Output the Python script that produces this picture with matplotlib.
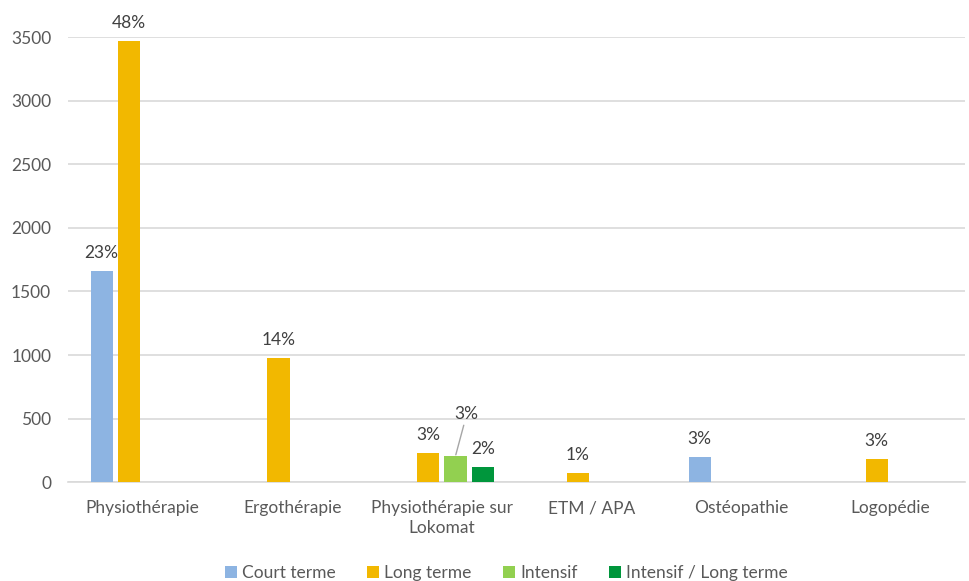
import numpy as np
import matplotlib.pyplot as plt

plt.rcParams['font.family'] = ['Lato', 'DejaVu Sans']

categories = ['Physiothérapie', 'Ergothérapie', 'Physiothérapie sur\nLokomat',
              'ETM / APA', 'Ostéopathie', 'Logopédie']
series = ['Court terme', 'Long terme', 'Intensif', 'Intensif / Long terme']
colors = ['#8DB4E2', '#F2B800', '#92D050', '#00963C']

# values per series (None = no bar)
court = [1660, None, None, None, 197, None]
long_ = [3470, 975, 228, 71, None, 181]
intensif = [None, None, 205, None, None, None]
intensif_long = [None, None, 118, None, None, None]

labels_court = ['23%', None, None, None, '3%', None]
labels_long = ['48%', '14%', '3%', '1%', None, '3%']
labels_int = [None, None, '3%', None, None, None]
labels_il = [None, None, '2%', None, None, None]

values = [court, long_, intensif, intensif_long]
labels = [labels_court, labels_long, labels_int, labels_il]

fig = plt.figure(figsize=(9.7, 5.81), dpi=100)
ax = fig.add_axes([0.070, 0.170, 0.925, 0.766])

x = np.arange(len(categories))
slot = 0.183
offsets = [-1.5 * slot, -0.5 * slot, 0.5 * slot, 1.5 * slot]
txt_color = '#404040'
fs = 12.5

for vals, labs, off, col, name in zip(values, labels, offsets, colors, series):
    xs = [xi + off for xi, v in zip(x, vals) if v is not None]
    ys = [v for v in vals if v is not None]
    ax.bar(xs, ys, width=0.148, color=col, label=name, zorder=3)
    for xi, v, lab in zip(x, vals, labs):
        if lab is None:
            continue
        if name == 'Intensif':
            # label pulled up with a leader line
            ax.annotate(lab, xy=(xi + off, v), xytext=(xi + off + 0.075, v + 265),
                        ha='center', va='bottom', fontsize=fs, color=txt_color,
                        arrowprops=dict(arrowstyle='-', color='#A6A6A6', lw=1,
                                        shrinkA=0, shrinkB=1))
        else:
            ax.text(xi + off, v + 80, lab, ha='center', va='bottom',
                    fontsize=fs, color=txt_color)

ax.set_xlim(-0.5, len(categories) - 0.5)
ax.set_ylim(0, 3500)
ax.set_yticks(np.arange(0, 3501, 500))
ax.set_xticks(x)
ax.set_xticklabels(categories, linespacing=1.25)
ax.tick_params(axis='both', length=0, labelsize=fs, labelcolor='#595959')
ax.tick_params(axis='x', pad=13)
ax.tick_params(axis='y', pad=12)
ax.yaxis.grid(True, color='#D9D9D9', lw=1.2, zorder=0)
for s in ['top', 'right', 'left']:
    ax.spines[s].set_visible(False)
ax.spines['bottom'].set_color('#D9D9D9')
ax.spines['bottom'].set_linewidth(1.2)

fig.legend(loc='center', bbox_to_anchor=(0.522, 0.014), ncol=4, frameon=False,
           fontsize=fs, handlelength=0.7, handleheight=0.7, handletextpad=0.3,
           columnspacing=1.8, labelcolor='#595959')

fig.savefig('out.png', dpi=100)
